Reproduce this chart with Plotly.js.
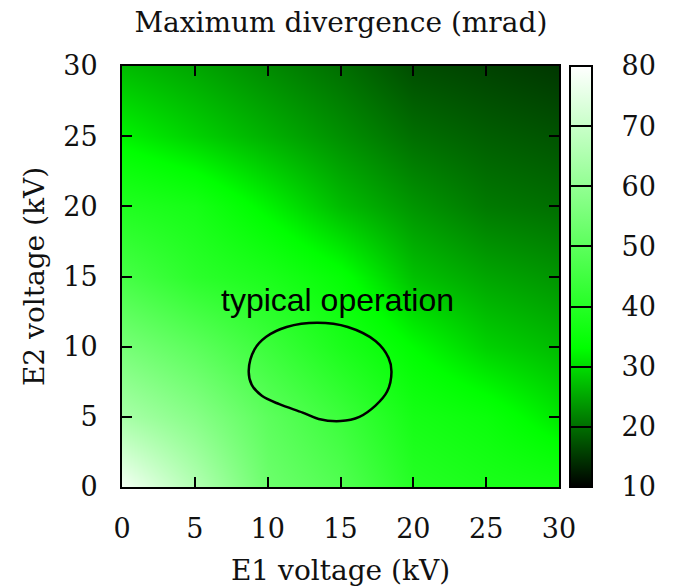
<!DOCTYPE html>
<html>
<head>
<meta charset="utf-8">
<script src="https://cdn.plot.ly/plotly-3.0.1.min.js"></script>
<style>html,body{margin:0;padding:0;background:#fff;}#chart{width:675px;height:587px;}</style>
</head>
<body>
<div id="chart"></div>
<script>
// Grid of voltages (kV)
const e1Voltage = [0, 5, 10, 15, 20, 25, 30];
const e2Voltage = [0, 5, 10, 15, 20, 25, 30];
// Maximum divergence (mrad), one row per E2 value
const divE2_0  = [78, 66, 53, 48, 40, 38, 37];
const divE2_5  = [64, 58, 50, 44, 37, 35, 31];
const divE2_10 = [55, 50, 44, 38, 33, 29, 27];
const divE2_15 = [46, 41, 38, 34, 27.5, 25, 23.5];
const divE2_20 = [39, 37, 32, 27, 23.5, 21, 20];
const divE2_25 = [32, 29, 26, 23, 20, 18.5, 17.5];
const divE2_30 = [27, 25, 22.5, 20, 17, 16, 15];
// "typical operation" outline
const opE1 = [8.7, 9.1, 9.9, 11.3, 13.4, 15.5, 17.4, 18.3, 18.5, 18.2, 17.4, 16.3, 15.0, 13.5, 12.4, 10.8, 9.6, 8.9, 8.7];
const opE2 = [8.3, 9.8, 10.7, 11.4, 11.7, 11.4, 10.4, 9.2, 8.2, 6.8, 5.8, 5.0, 4.7, 4.85, 5.3, 5.9, 6.5, 7.3, 8.3];
const colorTicks = [10, 20, 30, 40, 50, 60, 70, 80];
const axisTicks = [0, 5, 10, 15, 20, 25, 30];

const serif = "DejaVu Serif";
const zRows = [divE2_0, divE2_5, divE2_10, divE2_15, divE2_20, divE2_25, divE2_30];
const labelPad = '\u00A0\u00A0\u2009';

const heat = {
  type: 'heatmap', x: e1Voltage, y: e2Voltage, z: zRows,
  zsmooth: 'best', zmin: 10, zmax: 80,
  colorscale: [[0, '#000000'], [0.33, '#00ff00'], [1, '#ffffff']],
  colorbar: {
    x: 1.025, xanchor: 'left', xpad: 0, y: 0.5, yanchor: 'middle', ypad: 0,
    len: 1, lenmode: 'fraction', thickness: 22, thicknessmode: 'pixels',
    outlinecolor: '#000', outlinewidth: 2,
    tickmode: 'array', tickvals: colorTicks, ticktext: colorTicks.map(v => labelPad + v),
    ticks: 'inside', ticklen: 22, tickwidth: 2, tickcolor: '#000',
    tickfont: {family: serif, size: 27, color: '#111'}
  },
  hoverinfo: 'skip'
};
const outline = {
  type: 'scatter', mode: 'lines', x: opE1, y: opE2,
  line: {color: '#000', width: 2.5, shape: 'spline', smoothing: 1},
  showlegend: false, hoverinfo: 'skip'
};
const axisCommon = {
  range: [0, 30], tickmode: 'array', tickvals: axisTicks, ticktext: axisTicks.map(String),
  ticks: 'inside', ticklen: 10, tickwidth: 2, tickcolor: '#000',
  showline: true, linecolor: '#000', linewidth: 2, mirror: 'ticks',
  showgrid: false, zeroline: false,
  tickfont: {family: serif, size: 27, color: '#111'}
};
const layout = {
  width: 675, height: 587,
  margin: {l: 122, r: 116, t: 66, b: 100, autoexpand: false},
  paper_bgcolor: '#fff', plot_bgcolor: '#fff',
  title: {text: 'Maximum divergence (mrad)', font: {family: serif, size: 28, color: '#111'}, x: 0.505, xanchor: 'center', y: 0.962, yanchor: 'middle'},
  xaxis: Object.assign({}, axisCommon, {title: {text: 'E1 voltage (kV)', font: {family: serif, size: 28, color: '#111'}, standoff: 19}, ticklabelstandoff: 17}),
  yaxis: Object.assign({}, axisCommon, {title: {text: 'E2 voltage (kV)', font: {family: serif, size: 28, color: '#111'}, standoff: 10}, ticklabelstandoff: 17}),
  annotations: [{
    x: 14.8, y: 13.3, xref: 'x', yref: 'y', text: 'typical operation', showarrow: false,
    font: {family: 'Liberation Sans', size: 32, color: '#000'}
  }],
  showlegend: false
};
Plotly.newPlot('chart', [heat, outline], layout, {displayModeBar: false, staticPlot: true});
</script>
</body>
</html>
